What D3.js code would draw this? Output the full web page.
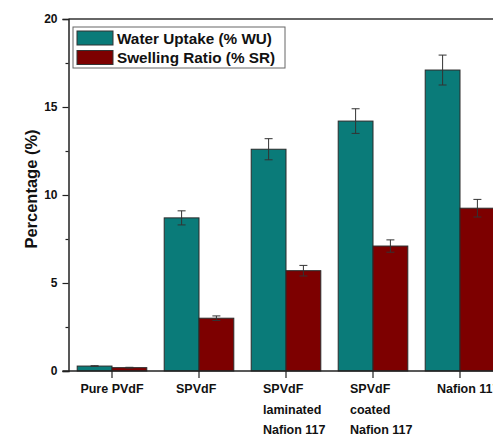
<!DOCTYPE html>
<html>
<head>
<meta charset="utf-8">
<script src="https://cdn.jsdelivr.net/npm/d3@7"></script>
<style>
  body { margin: 0; background: #fff; }
  svg { display: block; font-family: "Liberation Sans", Arial, sans-serif; font-weight: bold; }
</style>
</head>
<body>
<div id="chart"></div>
<script>
// data
var categories = ["Pure PVdF", "SPVdF", "SPVdF laminated Nafion 117", "SPVdF coated Nafion 117", "Nafion 117"];
var labelLines = [["Pure PVdF"], ["SPVdF"], ["SPVdF", "laminated", "Nafion 117"], ["SPVdF", "coated", "Nafion 117"], ["Nafion 117"]];
var waterUptake = [0.28, 8.7, 12.6, 14.2, 17.1];
var waterUptakeErr = [0.02, 0.4, 0.6, 0.7, 0.85];
var swellingRatio = [0.19, 3.0, 5.7, 7.1, 9.25];
var swellingRatioErr = [0.02, 0.13, 0.3, 0.35, 0.5];
var seriesNames = ["Water Uptake (% WU)", "Swelling Ratio (% SR)"];
var seriesColors = ["#0a7b79", "#7d0000"];
var yTicks = [0, 5, 10, 15, 20];

var svgWidth = 493, svgHeight = 437;
var margins = { top: 19, left: 68.5, bottom: 66 };
var plotRight = 520;

var svg = d3.select("#chart").append("svg")
    .attr("width", svgWidth)
    .attr("height", svgHeight);

var yScale = d3.scaleLinear()
    .domain([0, 20])
    .range([svgHeight - margins.bottom, margins.top]);

var xScale = d3.scaleBand()
    .domain(categories)
    .range([margins.left, margins.left + 87 * 5])
    .paddingInner(0.2)
    .paddingOuter(0.1);

var xSub = d3.scaleBand()
    .domain([0, 1])
    .range([0, xScale.bandwidth()]);

var rows = categories.map(function(c, i) {
    return [
        { cat: c, s: 0, v: waterUptake[i], e: waterUptakeErr[i] },
        { cat: c, s: 1, v: swellingRatio[i], e: swellingRatioErr[i] }
    ];
});

// bars
var groups = svg.selectAll(".grp")
    .data(rows)
    .enter()
    .append("g")
    .attr("class", "grp")
    .attr("transform", d => `translate(${xScale(d[0].cat)},0)`);

groups.selectAll("rect")
    .data(d => d)
    .enter()
    .append("rect")
    .attr("x", d => xSub(d.s))
    .attr("y", d => yScale(d.v))
    .attr("width", xSub.bandwidth())
    .attr("height", d => yScale(0) - yScale(d.v))
    .attr("fill", d => seriesColors[d.s])
    .attr("stroke", "#2b2b2b")
    .attr("stroke-width", 1);

// error bars
var err = groups.selectAll(".err")
    .data(d => d)
    .enter()
    .append("g")
    .attr("class", "err")
    .attr("stroke", "#333")
    .attr("stroke-width", 1);

err.append("line")
    .attr("x1", d => xSub(d.s) + xSub.bandwidth() / 2)
    .attr("x2", d => xSub(d.s) + xSub.bandwidth() / 2)
    .attr("y1", d => yScale(d.v + d.e))
    .attr("y2", d => yScale(d.v - d.e));
err.append("line")
    .attr("x1", d => xSub(d.s) + xSub.bandwidth() / 2 - 4)
    .attr("x2", d => xSub(d.s) + xSub.bandwidth() / 2 + 4)
    .attr("y1", d => yScale(d.v + d.e))
    .attr("y2", d => yScale(d.v + d.e));
err.append("line")
    .attr("x1", d => xSub(d.s) + xSub.bandwidth() / 2 - 4)
    .attr("x2", d => xSub(d.s) + xSub.bandwidth() / 2 + 4)
    .attr("y1", d => yScale(d.v - d.e))
    .attr("y2", d => yScale(d.v - d.e));

// frame top
svg.append("line")
    .attr("x1", margins.left).attr("x2", plotRight)
    .attr("y1", yScale(20)).attr("y2", yScale(20))
    .attr("stroke", "#333").attr("stroke-width", 1.5);

// y axis
var yAxis = d3.axisLeft(yScale).tickValues(yTicks).tickSize(6).tickPadding(5);
var yG = svg.append("g")
    .attr("transform", `translate(${margins.left},0)`)
    .call(yAxis);
yG.select(".domain").attr("stroke", "#222").attr("stroke-width", 1.5);
yG.selectAll(".tick line").attr("stroke", "#222").attr("stroke-width", 1.2);
yG.selectAll(".tick text")
    .style("font-size", "12px")
    .style("font-weight", "bold")
    .style("font-family", "Liberation Sans, Arial, sans-serif")
    .attr("fill", "#111");

var yMinor = d3.axisLeft(yScale).tickValues([2.5, 7.5, 12.5, 17.5]).tickSize(3).tickFormat("");
var yM = svg.append("g")
    .attr("transform", `translate(${margins.left},0)`)
    .call(yMinor);
yM.select(".domain").remove();
yM.selectAll(".tick line").attr("stroke", "#222").attr("stroke-width", 1.2);

// x axis
var xAxis = d3.axisBottom(xScale).tickSize(7).tickFormat("");
var xG = svg.append("g")
    .attr("transform", `translate(0,${yScale(0)})`)
    .call(xAxis);
xG.select(".domain").attr("d", `M${margins.left - 6},0H${plotRight}`).attr("stroke", "#222").attr("stroke-width", 1.5);
xG.selectAll(".tick line").attr("stroke", "#222").attr("stroke-width", 1.2);

// x labels
var xLabels = svg.append("g")
    .style("font-size", "12.5px")
    .attr("fill", "#111");
xLabels.selectAll("text")
    .data(categories)
    .enter()
    .append("text")
    .attr("x", (d, i) => i === 0 ? xScale(d) + xScale.bandwidth() / 2 : xScale(d) + xScale.bandwidth() / 2 - 23)
    .attr("y", yScale(0) + 22)
    .style("text-anchor", (d, i) => i === 0 ? "middle" : "start")
    .each(function(d, i) {
        var t = d3.select(this);
        labelLines[i].forEach(function(line, j) {
            t.append("tspan")
                .attr("x", t.attr("x"))
                .attr("dy", j === 0 ? 0 : 20.5)
                .text(line);
        });
    });

// y label
svg.append("text")
    .attr("transform", "rotate(-90)")
    .attr("x", -189)
    .attr("y", 37)
    .style("font-size", "16.5px")
    .style("text-anchor", "middle")
    .attr("fill", "#111")
    .text("Percentage (%)");

// legend
var legend = svg.append("g");
legend.append("rect")
    .attr("x", 73).attr("y", 27)
    .attr("width", 212).attr("height", 41)
    .attr("fill", "#fff")
    .attr("stroke", "#666")
    .attr("stroke-width", 1);
var items = legend.selectAll(".item")
    .data(seriesNames)
    .enter()
    .append("g")
    .attr("class", "item")
    .attr("transform", (d, i) => `translate(77,${31 + i * 19.5})`);
items.append("rect")
    .attr("width", 36).attr("height", 14)
    .attr("fill", (d, i) => seriesColors[i])
    .attr("stroke", "#333");
items.append("text")
    .attr("x", 40)
    .attr("y", 12.5)
    .style("font-size", "15.3px")
    .attr("fill", "#111")
    .text(d => d);
</script>
</body>
</html>
